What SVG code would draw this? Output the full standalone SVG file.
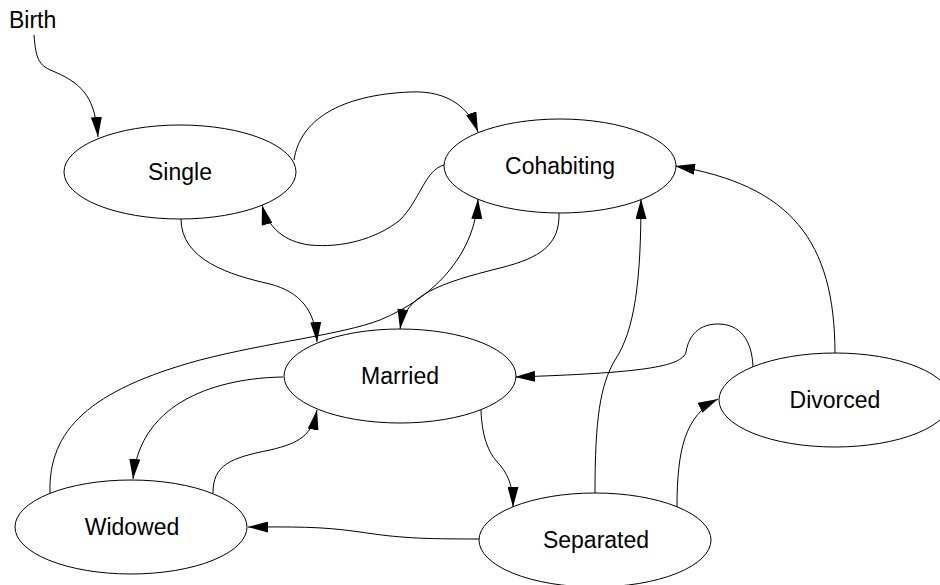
<svg xmlns="http://www.w3.org/2000/svg" width="940" height="585" viewBox="0 0 940 585">
<style>
.node ellipse{fill:#fff;stroke:#000;stroke-width:1}
text{font-family:"Liberation Sans",Arial,sans-serif;font-size:23px;fill:#000}
.node text{text-anchor:middle}
.edges path{fill:none;stroke:#000;stroke-width:1;marker-end:url(#arr)}
</style>
<defs>
<marker id="arr" viewBox="0 0 20 11" refX="20" refY="5.5" markerWidth="20" markerHeight="11" markerUnits="userSpaceOnUse" orient="auto">
<path d="M0,0 L20,5.5 L0,11 z" fill="#000"/>
</marker>
</defs>
<rect width="940" height="585" fill="#fff"/>
<g id="birth"><text x="9" y="28">Birth</text></g>
<g class="edges" id="edges">
<path d="M34,35 C36,62 40,66 55,72 C85,85 95,100 98,137"/>
<path d="M294,160 C300,120 340,95 410,92 C450,90 470,110 478,132"/>
<path d="M444,165 C425,170 420,200 400,220 C375,240 340,248 310,245 C285,242 268,228 262,205"/>
<path d="M181,219 C181,260 230,275 270,284 C300,292 315,310 317,342"/>
<path d="M559,213 C560,245 540,258 500,268 C440,283 405,295 400,329"/>
<path d="M50,493 C48,430 90,390 200,360 C270,342 340,335 380,320 C440,295 475,250 478,199"/>
<path d="M283,377 C220,378 140,400 133,479"/>
<path d="M213,493 C213,465 230,458 270,450 C300,443 312,435 317,410"/>
<path d="M480,539 C420,539 400,538 360,532 C320,526 290,527 248,527"/>
<path d="M481,410 C482,440 490,455 500,465 C510,477 513,490 513,507"/>
<path d="M753,367 C752,340 740,324 718,324 C695,324 688,340 686,352 C682,367 640,373 515,377"/>
<path d="M595,493 C595,420 600,385 615,360 C635,330 641,280 641,199"/>
<path d="M677,507 C677,450 685,415 718,399"/>
<path d="M835,354 C835,240 790,185 675,166"/>
</g>
<g class="node" id="single"><ellipse cx="180" cy="172" rx="116" ry="47"/><text x="180" y="180">Single</text></g>
<g class="node" id="cohabiting"><ellipse cx="560" cy="166" rx="116" ry="47"/><text x="560" y="174">Cohabiting</text></g>
<g class="node" id="married"><ellipse cx="400" cy="376" rx="116" ry="47"/><text x="400" y="384">Married</text></g>
<g class="node" id="widowed"><ellipse cx="131" cy="527" rx="116" ry="47"/><text x="132" y="535">Widowed</text></g>
<g class="node" id="separated"><ellipse cx="595" cy="540" rx="116" ry="47"/><text x="596" y="548">Separated</text></g>
<g class="node" id="divorced"><ellipse cx="835" cy="400" rx="116" ry="47"/><text x="835" y="408">Divorced</text></g>
</svg>
